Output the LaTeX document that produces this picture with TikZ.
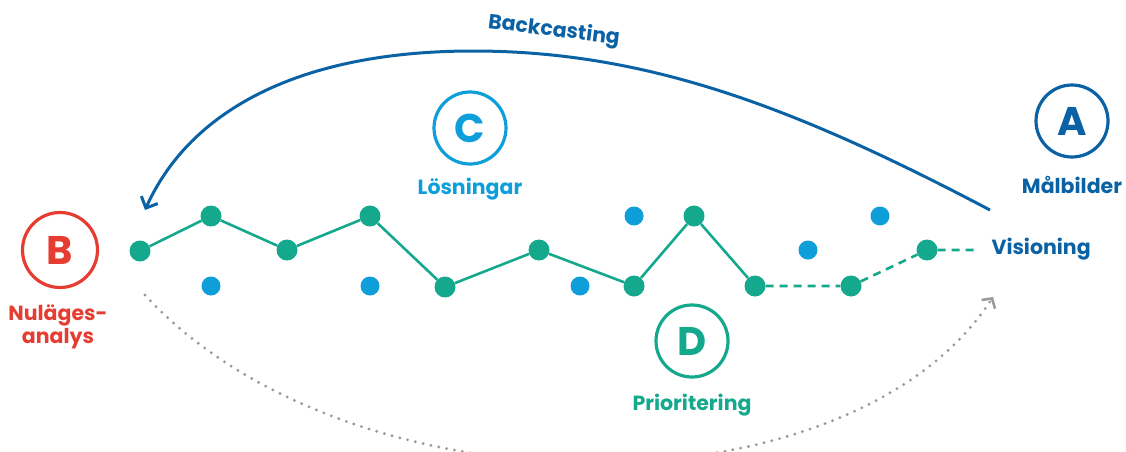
\documentclass[tikz,border=0pt]{standalone}
\usepackage{fontspec}
\setmainfont{Poppins}
\usetikzlibrary{arrows.meta}
\definecolor{dblue}{HTML}{0A62A5}
\definecolor{lblue}{HTML}{0E9FDA}
\definecolor{cred}{HTML}{E63D32}
\definecolor{cgreen}{HTML}{14A88C}
\definecolor{cgrey}{HTML}{9A9A9A}
\tikzset{
  gdot/.style={circle,fill=cgreen,inner sep=0pt,minimum size=21pt},
  bdot/.style={circle,fill=lblue,inner sep=0pt,minimum size=19pt},
  ring/.style={circle,line width=3.2pt,minimum size=72pt,inner sep=0pt,font=\fontsize{40}{40}\selectfont\bfseries},
  lab/.style={font=\fontsize{20.5}{23}\selectfont\bfseries,align=center},
  gline/.style={cgreen,line width=2.6pt},
  gdash/.style={cgreen,line width=2.6pt,dash pattern=on 8pt off 6pt},
}
\begin{document}
\begin{tikzpicture}[x=1pt,y=-1pt]
\useasboundingbox (0,0) rectangle (1126,451);
\clip (0,0) rectangle (1126,451);
% rings
\node[ring,draw=dblue,text=dblue] (A) at (1072,121) {A};
\node[ring,draw=cred,text=cred,minimum size=75pt] (B) at (60,250) {B};
\node[ring,draw=lblue,text=lblue] (C) at (470,128) {C};
\node[ring,draw=cgreen,text=cgreen] (D) at (692,341) {D};
\node[lab,text=dblue] (la) at (1072,185) {Målbilder};
\node[lab,text=cred] (lb) at (58,327) {Nuläges-\\analys};
\node[lab,text=lblue] (lc) at (470,189) {Lösningar};
\node[lab,text=cgreen] (ld) at (692,405) {Prioritering};
\node[lab,text=dblue,anchor=west] (vis) at (988,249) {Visioning};
\node[lab,text=dblue,rotate=-7] (bc) at (554,31) {Backcasting};
% green path nodes
\node[gdot] (g1) at (140,251) {};
\node[gdot] (g2) at (211,216) {};
\node[gdot] (g3) at (287,250) {};
\node[gdot] (g4) at (370,216) {};
\node[gdot] (g5) at (445,287) {};
\node[gdot] (g6) at (539,250) {};
\node[gdot] (g7) at (634,286) {};
\node[gdot] (g8) at (694,216) {};
\node[gdot] (g9) at (755,286) {};
\node[gdot] (g10) at (851,286) {};
\node[gdot] (g11) at (927,250) {};
\coordinate (gend) at (978,250);
% blue dots
\node[bdot] (b1) at (211,286) {};
\node[bdot] (b2) at (370,286) {};
\node[bdot] (b3) at (580,286) {};
\node[bdot] (b4) at (634,216) {};
\node[bdot] (b5) at (808,250) {};
\node[bdot] (b6) at (880,216) {};
% lines
\draw[gline] (g1) -- (g2) -- (g3) -- (g4) -- (g5) -- (g6) -- (g7) -- (g8) -- (g9);
\draw[gdash] (g9) -- (g10) -- (g11) -- (gend);
% backcasting arrow
\coordinate (bs) at (990,210);
\coordinate (bm) at (473,51);
\coordinate (be) at (145,210);
\draw[dblue,line width=3pt,-{Straight Barb[length=9pt,width=18pt,line width=3pt]}]
  (bs) .. controls (800,110) and (650,51) .. (bm)
       .. controls (300,51) and (190,110) .. (be);
% dotted arrow
\coordinate (ds) at (145,295);
\coordinate (de) at (993,297);
\draw[cgrey,line width=3.2pt,line cap=round,dash pattern=on 0pt off 8pt,-{Straight Barb[length=7pt,width=16pt,line width=2.6pt]}]
  (ds) .. controls (350,518) and (850,518) .. (de);
\end{tikzpicture}
\end{document}
